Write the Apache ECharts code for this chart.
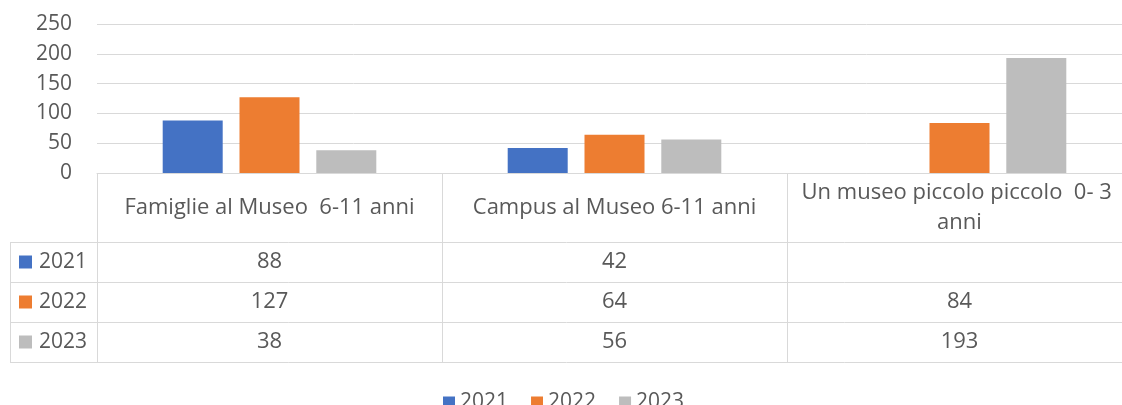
<!DOCTYPE html>
<html>
<head>
<meta charset="utf-8">
<script src="https://cdn.jsdelivr.net/npm/echarts@6/dist/echarts.min.js"></script>
<style>
html,body{margin:0;padding:0;background:#fff;}
#chart{width:1122px;height:405px;}
</style>
</head>
<body>
<div id="chart"></div>
<script>
const categories = ['Famiglie al Museo  6-11 anni', 'Campus al Museo 6-11 anni', 'Un museo piccolo piccolo  0- 3 anni'];
const seriesNames = ['2021', '2022', '2023'];
const values2021 = [88, 42, null];
const values2022 = [127, 64, 84];
const values2023 = [38, 56, 193];
const yTicks = [0, 50, 100, 150, 200, 250];

const colors = ['#4472C4', '#ED7D31', '#BDBDBD'];
const allValues = [values2021, values2022, values2023];
const FONT = '"Open Sans"';
const FS = 21;
const FT = 22;
const TXT = '#595959';
const LINE = '#D9D9D9';

const chart = echarts.init(document.getElementById('chart'));
const option = {
  animation: false,
  color: colors,
  grid: { left: 97, top: 24, width: 1035, height: 149, containLabel: false, outerBoundsMode: 'none' },
  legend: {
    data: seriesNames,
    left: 443, top: 392, padding: 0,
    itemWidth: 12, itemHeight: 12, itemGap: 23,
    icon: 'rect',
    textStyle: { fontFamily: FONT, fontSize: FS, color: TXT }
  },
  xAxis: {
    type: 'category',
    data: categories,
    axisLine: { show: true, lineStyle: { color: LINE, width: 1 } },
    axisTick: { show: true, alignWithLabel: false, length: 189, lineStyle: { color: LINE, width: 1 } },
    axisLabel: {
      interval: 0, margin: 34.5, verticalAlign: 'middle',
      width: 325, overflow: 'break', lineHeight: 30,
      fontFamily: FONT, fontSize: FT, color: TXT
    }
  },
  yAxis: {
    type: 'value', min: yTicks[0], max: yTicks[yTicks.length - 1], interval: 50,
    axisLine: { show: false }, axisTick: { show: false },
    axisLabel: { margin: 25, fontFamily: FONT, fontSize: FS, color: TXT },
    splitLine: { lineStyle: { color: LINE, width: 1 } }
  },
  series: seriesNames.map((n, i) => ({
    name: n, type: 'bar', data: allValues[i],
    barWidth: 60, barGap: '28%'
  }))
};
chart.setOption(option);

// Data table built from the arrays, positioned through the chart's own axes
const x0 = chart.convertToPixel({ xAxisIndex: 0 }, 0);
const step = chart.convertToPixel({ xAxisIndex: 0 }, 1) - x0;
const gridLeft = x0 - step / 2;
const gridRight = gridLeft + step * categories.length;
const yZero = chart.convertToPixel({ yAxisIndex: 0 }, 0);
const headerBottom = yZero + 69;
const rowH = 40;
const tableLeft = 10;
const elems = [];
for (let r = 0; r <= seriesNames.length; r++) {
  const y = Math.round(headerBottom + r * rowH) + 0.5;
  elems.push({ type: 'line', shape: { x1: tableLeft, y1: y, x2: gridRight, y2: y }, style: { stroke: LINE, lineWidth: 1 } });
}
elems.push({ type: 'line', shape: { x1: tableLeft + 0.5, y1: headerBottom, x2: tableLeft + 0.5, y2: headerBottom + rowH * seriesNames.length }, style: { stroke: LINE, lineWidth: 1 } });
seriesNames.forEach((n, r) => {
  const cy = headerBottom + r * rowH + rowH / 2;
  elems.push({ type: 'rect', shape: { x: 19, y: cy - 6.5, width: 13, height: 13 }, style: { fill: colors[r] } });
  elems.push({ type: 'text', x: 39, y: cy, style: { text: n, font: FS + 'px ' + FONT, fill: TXT, textVerticalAlign: 'middle', textAlign: 'left' } });
  allValues[r].forEach((v, c) => {
    if (v === null || v === undefined) return;
    const cx = chart.convertToPixel({ xAxisIndex: 0 }, c);
    elems.push({ type: 'text', x: cx, y: cy, style: { text: String(v), font: FT + 'px ' + FONT, fill: TXT, textAlign: 'center', textVerticalAlign: 'middle' } });
  });
});
chart.setOption({ graphic: { elements: elems } });
</script>
</body>
</html>
